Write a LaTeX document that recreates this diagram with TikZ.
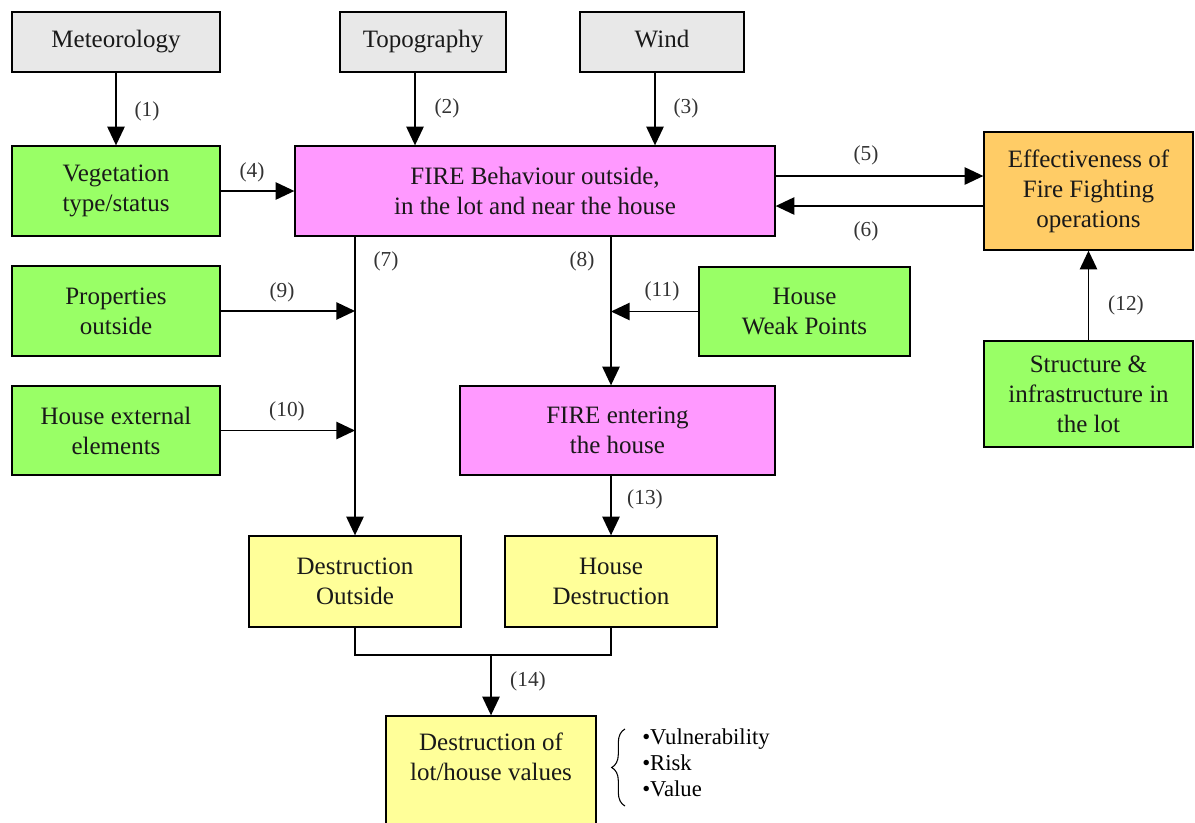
\documentclass[tikz,border=0pt]{standalone}
\usepackage{fontspec}
\setmainfont{Liberation Serif}
\usetikzlibrary{arrows.meta,decorations.pathreplacing}
\definecolor{cgray}{HTML}{E8E8E8}
\definecolor{cgreen}{HTML}{99FF66}
\definecolor{cpink}{HTML}{FF99FF}
\definecolor{corange}{HTML}{FFCC66}
\definecolor{cyellow}{HTML}{FFFF99}
\tikzset{
  box/.style={draw=black, line width=1pt, rectangle, align=center, inner sep=0pt,
    font=\fontsize{18.75pt}{22.5pt}\selectfont, text=black!90},
  gbox/.style={box, fill=cgray, text height=13pt, text depth=4.5pt},
  grbox/.style={box, fill=cgreen},
  pbox/.style={box, fill=cpink},
  obox/.style={box, fill=corange},
  ybox/.style={box, fill=cyellow},
  arr/.style={line width=1.1pt, -{Triangle[length=14pt,width=13pt]}},
  ln/.style={line width=1.1pt},
  lab/.style={font=\fontsize{16pt}{18pt}\selectfont, text=black!80, inner sep=0pt},
}
\begin{document}
\begin{tikzpicture}[x=0.75pt,y=-0.75pt]
\useasboundingbox (0,0) rectangle (1195,822);
\clip (0,0) rectangle (1195,822);
% nodes
\node[gbox, minimum width=208*0.75pt, minimum height=60*0.75pt] (met) at (116,42) {Meteorology};
\node[gbox, minimum width=166*0.75pt, minimum height=60*0.75pt] (topo) at (423,42) {Topography};
\node[gbox, minimum width=164*0.75pt, minimum height=60*0.75pt] (wind) at (662,42) {Wind};
\node[grbox, minimum width=208*0.75pt, minimum height=90*0.75pt] (veg) at (116,191) {Vegetation\\type/status};
\node[pbox, minimum width=480*0.75pt, minimum height=90*0.75pt] (fb) at (535,191) {FIRE Behaviour outside,\\in the lot and near the house};
\node[obox, minimum width=209*0.75pt, minimum height=118*0.75pt] (eff) at (1088.5,191) {Effectiveness of\\Fire Fighting\\operations};
\node[grbox, minimum width=208*0.75pt, minimum height=90*0.75pt] (prop) at (116,311) {Properties\\outside};
\node[grbox, minimum width=211*0.75pt, minimum height=89*0.75pt] (hwp) at (804.5,311.5) {House\\Weak Points};
\node[grbox, minimum width=208*0.75pt, minimum height=89*0.75pt] (hext) at (116,430.5) {House external\\elements};
\node[pbox, minimum width=315*0.75pt, minimum height=89*0.75pt] (fent) at (617.5,430.5) {FIRE entering\\the house};
\node[grbox, minimum width=209*0.75pt, minimum height=106*0.75pt] (struct) at (1088.5,394) {Structure \&\\infrastructure in\\the lot};
\node[ybox, minimum width=212*0.75pt, minimum height=91*0.75pt] (dout) at (355,581.5) {Destruction\\Outside};
\node[ybox, minimum width=212*0.75pt, minimum height=91*0.75pt] (hdes) at (611,581.5) {House\\Destruction};
\node[ybox, minimum width=210*0.75pt, minimum height=112*0.75pt] (dlot) at (491,772) {Destruction of\\lot/house values\\\mbox{}};
\node[anchor=north west, align=left, inner sep=0pt, text=black,
  font=\fontsize{17pt}{19.5pt}\selectfont] (vals) at (642,728) {\textbullet Vulnerability\\\textbullet Risk\\\textbullet Value};
% connectors
\draw[arr] (met) -- (veg);
\coordinate (t2) at ([xshift=-6pt]topo.south);
\draw[arr] (t2) -- (t2 |- fb.north);
\coordinate (t3) at ([xshift=-5.25pt]wind.south);
\draw[arr] (t3) -- (t3 |- fb.north);
\draw[arr] (veg.east) -- (fb.west |- veg.east);
\coordinate (f5) at ([yshift=11.25pt]fb.east);
\draw[arr] (f5) -- (f5 -| eff.west);
\coordinate (f6) at ([yshift=-11.25pt]fb.east);
\draw[arr] (f6 -| eff.west) -- (f6);
\draw[ln] (dout.north |- fb.south) -- ([yshift=5pt]dout.north);
\draw[arr] (dout.north |- prop.east) -- (dout.north);
\draw[arr] (prop.east) -- (prop.east -| dout.north);
\draw[arr] (hext.east) -- (hext.east -| dout.north);
\draw[arr] (hdes.north |- fb.south) -- (hdes.north |- fent.north);
\draw[arr] (hwp.west) -- (hwp.west -| hdes.north);
\draw[arr] (struct.north) -- (eff.south);
\draw[arr] (hdes.north |- fent.south) -- (hdes.north);
\coordinate (j) at (491,655);
\draw[ln] (dout.south) -- (dout.south |- j) -- (hdes.south |- j) -- (hdes.south);
\draw[arr] (j) -- (dlot.north);
\draw[line width=0.8pt, decorate, decoration={brace, amplitude=10pt}] (625,806) -- (625,729);
% labels
\node[lab] (l1) at (147,111) {(1)};
\node[lab] (l2) at (447,108) {(2)};
\node[lab] (l3) at (686,108) {(3)};
\node[lab] (l4) at (252,172) {(4)};
\node[lab] (l5) at (866,155) {(5)};
\node[lab] (l6) at (866,231) {(6)};
\node[lab] (l7) at (386,261) {(7)};
\node[lab] (l8) at (582,261) {(8)};
\node[lab] (l9) at (282,292) {(9)};
\node[lab] (l10) at (287,411) {(10)};
\node[lab] (l11) at (662,291) {(11)};
\node[lab] (l12) at (1126,305) {(12)};
\node[lab] (l13) at (645,499) {(13)};
\node[lab] (l14) at (528,681) {(14)};
\end{tikzpicture}
\end{document}
